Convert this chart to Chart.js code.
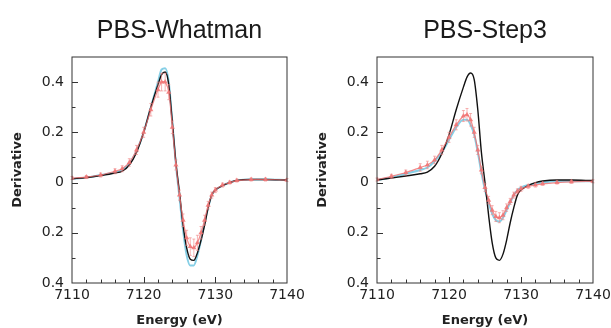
<!DOCTYPE html>
<html>
<head>
<meta charset="utf-8">
<script src="https://cdn.jsdelivr.net/npm/chart.js@4.4.1/dist/chart.umd.min.js"></script>
<style>
  body { margin: 0; background: #fff; }
  .panel { position: absolute; top: 0; height: 328px; }
</style>
</head>
<body>
<div class="panel" style="left:0;width:305px"><canvas id="whatman"></canvas></div>
<div class="panel" style="left:305px;width:306px"><canvas id="step3"></canvas></div>
<script>
// energie (eV) dipakai semua kurva
const energy = [7110, 7112, 7114, 7116, 7117, 7118, 7119, 7120, 7121, 7122, 7122.5, 7123, 7123.5, 7124, 7124.5, 7125,
    7125.5, 7126, 7126.5, 7127, 7127.5, 7128, 7128.5, 7129, 7129.5, 7130, 7131, 7132, 7133, 7135, 7137, 7140];

const whatmanRef = [0.015, 0.02, 0.028, 0.038, 0.045, 0.07, 0.12, 0.2, 0.3, 0.39, 0.43, 0.44, 0.39, 0.24, 0.08, -0.04,
    -0.17, -0.26, -0.305, -0.31, -0.28, -0.23, -0.17, -0.1, -0.05, -0.03, -0.012, 0, 0.008, 0.012, 0.012, 0.01];
const whatmanFit = [0.015, 0.02, 0.03, 0.04, 0.05, 0.075, 0.125, 0.2, 0.3, 0.4, 0.45, 0.455, 0.4, 0.24, 0.07, -0.06,
    -0.19, -0.29, -0.33, -0.33, -0.29, -0.23, -0.16, -0.1, -0.05, -0.03, -0.012, 0, 0.008, 0.012, 0.012, 0.01];
const whatmanData = [0.018, 0.022, 0.03, 0.045, 0.055, 0.08, 0.13, 0.2, 0.29, 0.37, 0.4, 0.4, 0.36, 0.22, 0.07, -0.05,
    -0.15, -0.22, -0.255, -0.26, -0.24, -0.2, -0.15, -0.09, -0.05, -0.03, -0.01, 0, 0.008, 0.012, 0.012, 0.01];
const whatmanErr = [0.006, 0.006, 0.008, 0.01, 0.012, 0.015, 0.018, 0.02, 0.025, 0.03, 0.035, 0.035, 0.03, 0.025, 0.02, 0.02,
    0.025, 0.03, 0.035, 0.035, 0.03, 0.025, 0.02, 0.015, 0.012, 0.01, 0.008, 0.006, 0.006, 0.006, 0.006, 0.006];

const step3Ref = [0.01, 0.018, 0.026, 0.035, 0.042, 0.065, 0.115, 0.19, 0.29, 0.38, 0.42, 0.436, 0.41, 0.29, 0.12, 0,
    -0.13, -0.24, -0.3, -0.31, -0.285, -0.23, -0.16, -0.1, -0.05, -0.03, -0.012, 0, 0.006, 0.01, 0.01, 0.008];
const step3Fit = [0.01, 0.02, 0.035, 0.05, 0.06, 0.085, 0.12, 0.17, 0.22, 0.25, 0.25, 0.23, 0.19, 0.12, 0.04, -0.03,
    -0.08, -0.125, -0.15, -0.155, -0.14, -0.11, -0.08, -0.05, -0.03, -0.02, -0.01, -0.005, 0, 0.005, 0.005, 0.005];
const step3Data = [0.012, 0.025, 0.04, 0.06, 0.07, 0.09, 0.13, 0.18, 0.23, 0.265, 0.27, 0.25, 0.2, 0.13, 0.05, -0.02,
    -0.07, -0.11, -0.135, -0.14, -0.13, -0.1, -0.075, -0.05, -0.035, -0.025, -0.015, -0.01, -0.005, 0, 0.003, 0.005];
const step3Err = [0.006, 0.008, 0.01, 0.015, 0.015, 0.015, 0.018, 0.02, 0.02, 0.022, 0.025, 0.025, 0.02, 0.018, 0.015, 0.015,
    0.015, 0.018, 0.02, 0.02, 0.018, 0.015, 0.012, 0.012, 0.01, 0.01, 0.008, 0.008, 0.006, 0.006, 0.006, 0.006];

const xTickValues = [7110, 7120, 7130, 7140];
const yTickValues = [-0.4, -0.2, 0, 0.2, 0.4];
const yTickLabels = ["0.4", "0.2", "0", "0.2", "0.4"];

const pts = (ys) => energy.map((x, i) => ({ x: x, y: ys[i] }));

// kotak + tick ke dalam + error bar
const framePlugin = {
    id: "frame",
    afterDatasetsDraw(chart) {
        const { ctx, chartArea: a, scales: { x, y } } = chart;
        ctx.save();

        chart.data.datasets.forEach((ds, di) => {
            if (!ds.errors || !chart.isDatasetVisible(di)) return;
            ctx.strokeStyle = "rgba(240,130,130,0.6)";
            ctx.lineWidth = 1;
            ds.data.forEach((p, i) => {
                const px = x.getPixelForValue(p.x);
                const y1 = y.getPixelForValue(p.y - ds.errors[i]);
                const y2 = y.getPixelForValue(p.y + ds.errors[i]);
                ctx.beginPath();
                ctx.moveTo(px, y1); ctx.lineTo(px, y2);
                ctx.moveTo(px - 1.5, y1); ctx.lineTo(px + 1.5, y1);
                ctx.moveTo(px - 1.5, y2); ctx.lineTo(px + 1.5, y2);
                ctx.stroke();
            });
        });

        ctx.strokeStyle = "#333";
        ctx.lineWidth = 1;
        ctx.strokeRect(a.left, a.top, a.right - a.left, a.bottom - a.top);
        ctx.beginPath();
        for (let e = 7112; e < 7140; e += 2) {
            const px = Math.round(x.getPixelForValue(e)) + 0.5;
            const len = e % 10 === 0 ? 6 : 3.5;
            ctx.moveTo(px, a.bottom); ctx.lineTo(px, a.bottom - len);
        }
        for (let k = -3; k <= 4; k++) {
            const py = Math.round(y.getPixelForValue(k / 10)) + 0.5;
            const len = k % 2 === 0 ? 6 : 3.5;
            ctx.moveTo(a.left, py); ctx.lineTo(a.left + len, py);
        }
        ctx.stroke();
        ctx.restore();
    },
};

function makePanel(id, title, ref, fit, data, err) {
    const ctx = document.getElementById(id).getContext("2d");
    new Chart(ctx, {
        type: "line",
        data: {
            datasets: [
                {
                    label: "data",
                    data: pts(data),
                    errors: err,
                    borderColor: "rgba(240,110,110,0.8)",
                    backgroundColor: "rgba(240,120,120,0.5)",
                    borderWidth: 1.2,
                    pointStyle: "triangle",
                    pointRadius: 1.8,
                    tension: 0.3,
                },
                {
                    label: "ref",
                    data: pts(ref),
                    borderColor: "#111",
                    borderWidth: 1.4,
                    pointRadius: 0,
                    cubicInterpolationMode: "monotone",
                },
                {
                    label: "fit",
                    data: pts(fit),
                    borderColor: "#86cfe6",
                    borderWidth: 2,
                    pointRadius: 0,
                    cubicInterpolationMode: "monotone",
                },
            ],
        },
        options: {
            responsive: true,
            maintainAspectRatio: false,
            animation: false,
            layout: { padding: 0 },
            plugins: {
                legend: { display: false },
                tooltip: { enabled: false },
                title: {
                    display: true,
                    text: title,
                    fullSize: false,
                    color: "#1a1a1a",
                    font: { family: "Liberation Sans", size: 25, weight: "normal" },
                    padding: { top: 16, bottom: 11 },
                },
            },
            scales: {
                x: {
                    type: "linear",
                    min: 7110,
                    max: 7140,
                    afterBuildTicks: (s) => { s.ticks = xTickValues.map((v) => ({ value: v })); },
                    afterFit: (s) => {
                        s.height = 45;
                        s.paddingRight = 18;
                    },
                    grid: { display: false, drawTicks: false },
                    border: { display: false },
                    ticks: {
                        color: "#222",
                        padding: 4,
                        maxRotation: 0,
                        font: { family: "DejaVu Sans", size: 14 },
                        callback: (v) => String(v),
                    },
                    title: {
                        display: true,
                        text: "Energy (eV)",
                        color: "#222",
                        padding: { top: 0, bottom: 0 },
                        font: { family: "DejaVu Sans", size: 13, weight: "bold" },
                    },
                },
                y: {
                    min: -0.4,
                    max: 0.5,
                    afterBuildTicks: (s) => { s.ticks = yTickValues.map((v) => ({ value: v })); },
                    afterFit: (s) => { s.width = 72; },
                    grid: { display: false, drawTicks: false },
                    border: { display: false },
                    ticks: {
                        color: "#222",
                        padding: 8,
                        font: { family: "DejaVu Sans", size: 14 },
                        callback: (v) => yTickLabels[yTickValues.indexOf(Math.round(v * 10) / 10)],
                    },
                    title: {
                        display: true,
                        text: "Derivative",
                        color: "#222",
                        padding: { top: 10, bottom: 0 },
                        font: { family: "DejaVu Sans", size: 13, weight: "bold" },
                    },
                },
            },
        },
        plugins: [framePlugin],
    });
}

makePanel("whatman", "PBS-Whatman", whatmanRef, whatmanFit, whatmanData, whatmanErr);
makePanel("step3", "PBS-Step3", step3Ref, step3Fit, step3Data, step3Err);
</script>
</body>
</html>
